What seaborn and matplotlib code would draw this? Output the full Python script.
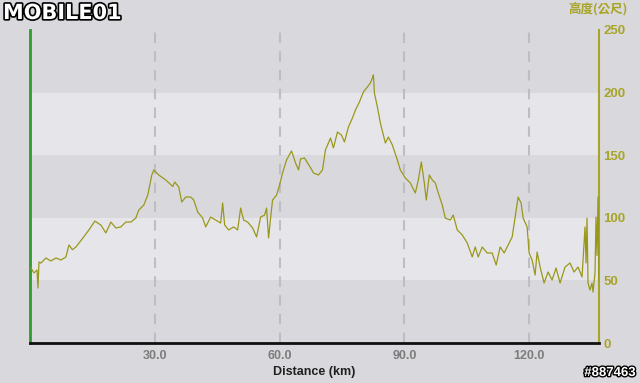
import matplotlib
matplotlib.use("Agg")
import matplotlib.pyplot as plt
import matplotlib.patheffects as pe
import seaborn as sns
import pandas as pd

distance_km = [0.24, 0.96, 1.68, 1.92, 2.16, 2.64, 3.84, 5.0, 6.24, 7.44, 8.64, 9.36, 10.2, 11.04, 12.72,
               14.16, 15.6, 17.04, 18.24, 19.44, 20.64, 21.84, 23.04, 24.24, 25.44, 26.16, 27.36,
               28.32, 28.8, 29.28, 29.76, 30.96, 32.64, 34.32, 34.8, 35.76, 36.48, 37.44, 38.64,
               39.36, 40.32, 41.52, 42.24, 43.44, 44.64, 45.84, 46.32, 46.8, 47.76, 48.96, 49.92,
               50.64, 51.36, 52.32, 53.52, 54.48, 55.44, 56.4, 56.88, 57.36, 57.84, 58.32, 59.28,
               60.0, 60.72, 61.68, 62.88, 63.84, 64.56, 65.04, 66.0, 67.44, 68.16, 69.36, 70.32,
               71.04, 72.24, 72.96, 73.92, 74.88, 75.6, 76.56, 77.52, 78.24, 79.2, 80.16, 81.12,
               81.84, 82.32, 82.56, 82.8, 83.52, 84.24, 85.44, 86.16, 87.12, 88.32, 89.04, 90.24,
               91.44, 92.64, 93.36, 94.08, 94.8, 95.28, 96.0, 96.72, 97.44, 98.16, 99.12, 99.84,
               101.04, 101.76, 102.72, 103.92, 105.12, 106.32, 107.04, 107.76, 108.72, 109.92,
               111.12, 112.08, 113.04, 114.0, 114.96, 115.92, 116.64, 117.36, 118.08, 118.56,
               119.52, 120.0, 120.72, 121.44, 121.92, 122.64, 123.6, 124.56, 125.52, 126.48,
               127.44, 128.64, 129.84, 130.8, 131.76, 132.72, 133.44, 133.68, 133.92, 134.16,
               134.64, 135.12, 135.36, 135.84, 136.08, 136.32, 136.56, 136.8]
elevation_m = [59.9, 55.9, 58.3, 43.9, 64.7, 63.9, 67.9, 65.5, 67.9, 66.3, 68.7, 78.3, 74.5, 76.7, 83.9,
               90.3, 97.4, 94.2, 87.9, 96.6, 91.9, 92.7, 96.6, 96.6, 99.8, 106.2, 110.2,
               118.2, 126.2, 134.2, 138.2, 134.2, 130.2, 125.0, 128.6, 124.6, 112.6, 116.6, 116.6,
               114.2, 104.6, 99.8, 92.7, 100.6, 98.2, 95.8, 111.8, 94.2, 90.3, 92.7, 90.3,
               107.8, 98.2, 96.6, 91.9, 84.7, 100.6, 102.2, 107.8, 83.9, 99.8, 114.2, 118.2,
               126.2, 135.8, 146.2, 153.4, 143.8, 138.2, 147.0, 147.8, 140.0, 135.8, 134.2, 138.2,
               154.2, 163.7, 155.8, 168.5, 166.1, 160.5, 172.5, 179.7, 186.1, 192.5, 200.5, 204.5,
               207.7, 211.7, 214.1, 199.7, 188.5, 175.7, 159.7, 164.5, 158.1, 146.2, 138.2, 131.8,
               127.8, 119.8, 130.2, 144.6, 127.8, 114.2, 134.2, 130.2, 127.8, 119.8, 110.2, 99.8,
               98.2, 102.2, 90.3, 86.3, 79.9, 68.7, 76.7, 68.7, 76.7, 71.9,
               71.9, 62.3, 76.7, 71.9, 78.3, 84.7, 100.6, 116.6, 111.8, 99.8,
               92.7, 71.9, 66.3, 54.3, 72.7, 60.7, 47.9, 56.7, 50.3, 59.9,
               47.9, 60.7, 63.9, 56.7, 60.7, 52.7, 92.7, 63.9, 99.8, 47.9,
               42.3, 47.9, 40.7, 55.9, 100.6, 70.0, 116.6, 50.0]

x_ticks = [30, 60, 90, 120]
x_tick_labels = ["30.0", "60.0", "90.0", "120.0"]
y_ticks = [0, 50, 100, 150, 200, 250]
band_ranges = [(50, 100), (150, 200)]

BG = "#d9d9dd"
BAND = "#e6e6ea"
OLIVE = "#9a981a"
AXIS_OLIVE = "#a8a428"
GREEN = "#2f9a2f"
FONT = ["Liberation Sans", "DejaVu Sans"]

df = pd.DataFrame({"Distance (km)": distance_km, "Elevation": elevation_m})

fig = plt.figure(figsize=(6.4, 3.83), dpi=100, facecolor=BG)
ax = fig.add_axes([30 / 640, 40 / 383, 569 / 640, 313 / 383])
ax.set_facecolor(BG)

for lo, hi in band_ranges:
    ax.axhspan(lo, hi, color=BAND, zorder=0, lw=0)
for xt in x_ticks:
    ax.axvline(xt, color="#bdbdc2", lw=1.5, ls=(0, (5, 4)), zorder=1)

sns.lineplot(data=df, x="Distance (km)", y="Elevation", ax=ax, color=OLIVE, lw=0.9,
             sort=False, zorder=3)

ax.set_xlim(0, 136.8)
ax.set_ylim(0, 250)

ax.set_xticks(x_ticks)
ax.set_xticklabels(x_tick_labels)
ax.tick_params(axis="x", length=0, pad=5, labelsize=9, labelcolor="#7c7c7c")
for lab in ax.get_xticklabels():
    lab.set_fontfamily(FONT)
    lab.set_fontweight("bold")

ax.yaxis.tick_right()
ax.set_yticks(y_ticks)
ax.set_yticklabels([str(v) for v in y_ticks])
ax.tick_params(axis="y", length=0, pad=3, labelsize=9.5, labelcolor=AXIS_OLIVE)
for lab in ax.get_yticklabels():
    lab.set_fontfamily(FONT)
    lab.set_fontweight("bold")

ax.set_xlabel("Distance (km)", fontsize=9, color="#202020", labelpad=3,
              family=FONT, fontweight="bold")
ax.set_ylabel("")

ax.spines["top"].set_visible(False)
ax.spines["bottom"].set_color("#101010")
ax.spines["bottom"].set_linewidth(2)
ax.spines["left"].set_color(GREEN)
ax.spines["left"].set_linewidth(2)
ax.spines["right"].set_color(AXIS_OLIVE)
ax.spines["right"].set_linewidth(1.5)

fig.text(598 / 640, 1 - 9 / 383, "高度(公尺)", ha="center", va="center", fontsize=9,
         color=AXIS_OLIVE, fontweight="bold", family=["Noto Sans CJK TC", "DejaVu Sans"])

fig.text(3 / 640, 1 - 13 / 383, "MOBILE01", ha="left", va="center", fontsize=15,
         color="white", fontweight="bold", family=["DejaVu Sans"],
         path_effects=[pe.withStroke(linewidth=2.4, foreground="black")])

fig.text(636 / 640, 1 - 373 / 383, "#887463", ha="right", va="center", fontsize=9.5,
         color="white", fontweight="bold", family=FONT,
         path_effects=[pe.withStroke(linewidth=2, foreground="black")])

fig.savefig("out.png", dpi=100, facecolor=BG)
